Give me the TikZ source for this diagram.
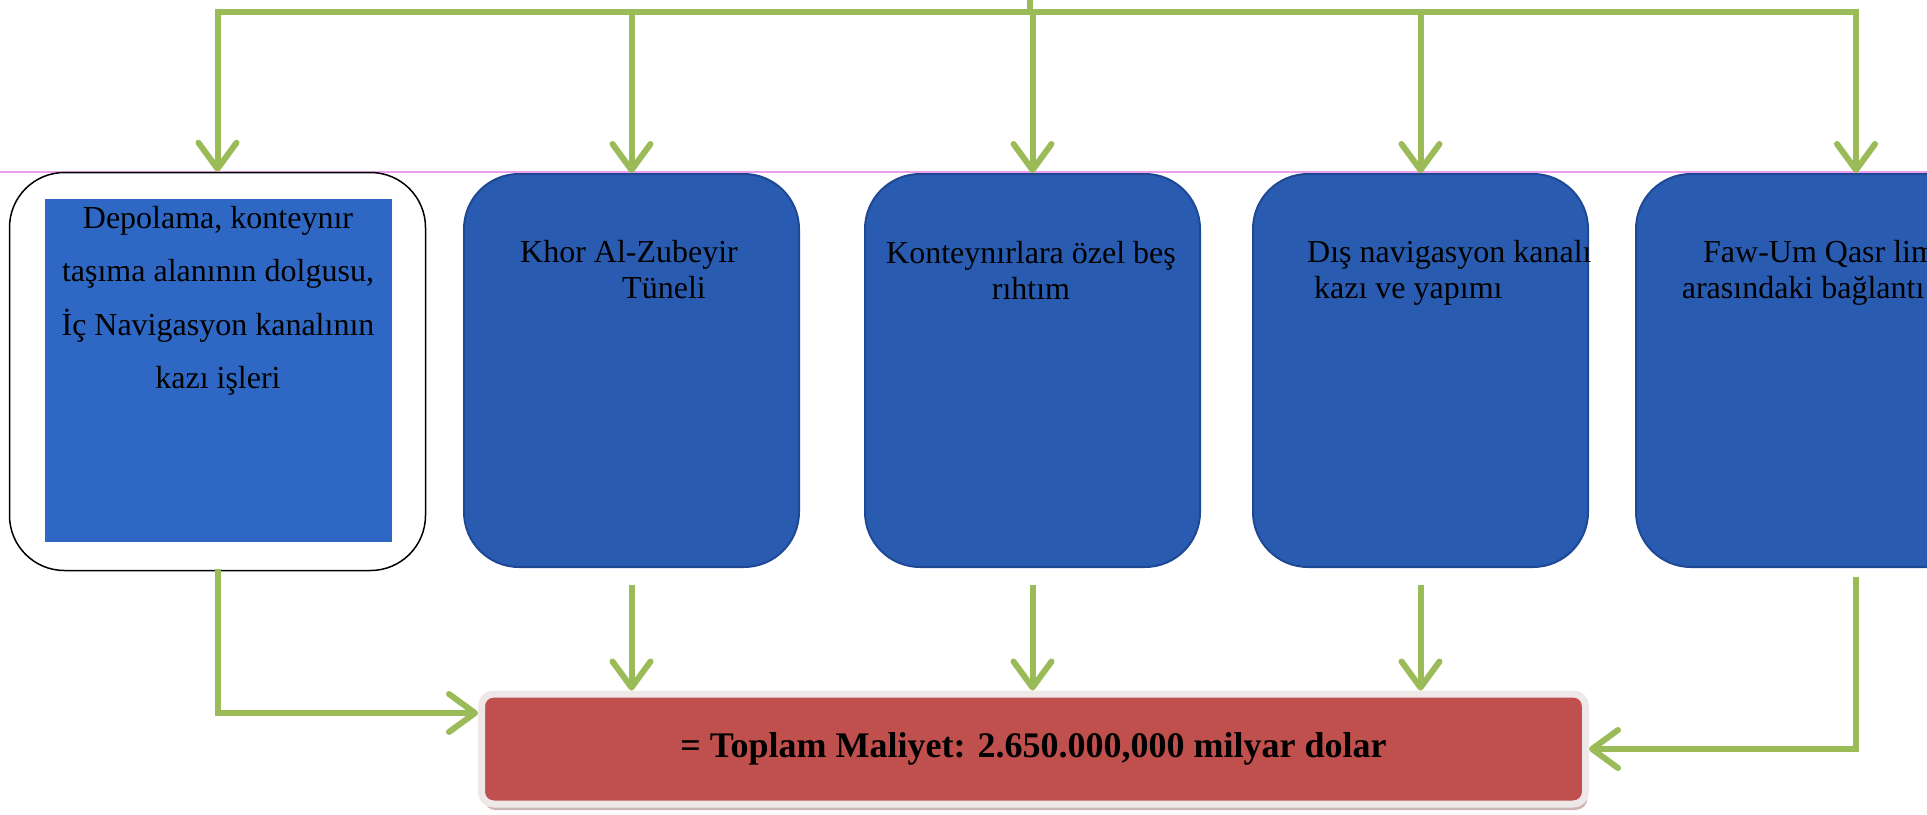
\documentclass[tikz,border=0pt]{standalone}
\usepackage{fontspec}
\setmainfont{Liberation Serif}
\usetikzlibrary{arrows.meta,shadows}
\definecolor{boxblue}{RGB}{41,92,176}
\definecolor{boxrim}{RGB}{30,72,148}
\definecolor{rectblue}{RGB}{46,104,196}
\definecolor{linkgreen}{RGB}{155,187,89}
\definecolor{totalred}{RGB}{192,80,77}
\definecolor{totalrim}{RGB}{238,232,232}
\definecolor{guide}{RGB}{236,160,236}
\begin{document}
\begin{tikzpicture}[x=1pt,y=-1pt,
        link/.style={draw=linkgreen, line width=6pt, line cap=rect},
        arr/.style={link, -{Straight Barb[length=26pt,width=38pt,round]}},
        item/.style={rounded corners=55pt, fill=boxblue, draw=boxrim, line width=2pt,
            minimum width=335pt, minimum height=393pt, inner sep=0pt},
        boxtext/.style={inner sep=0pt, anchor=north, align=center,
            font=\fontsize{32}{36}\selectfont}]
        \useasboundingbox (0,0) rectangle (1927,814);
        \clip (0,0) rectangle (1927,814);
        \draw[guide, line width=1.5pt] (0,172) -- (1927,172);

        \node[draw=black, line width=1.5pt, rounded corners=55pt, fill=white,
            minimum width=416pt, minimum height=398pt] (depo) at (217.5,371.5) {};
        \fill[rectblue] (45,199) rectangle (392,542);
        \node[item] (khor) at (631.5,370.5) {};
        \node[item] (rihtim) at (1032.5,370.5) {};
        \node[item] (dis) at (1420.5,370.5) {};
        \node[item, minimum width=440pt] (faw) at (1856,370.5) {};

        \node[boxtext, font=\fontsize{32}{53.5}\selectfont] (depotext) at (218,190.5)
            {\strut Depolama, konteynır\\taşıma alanının dolgusu,\\İç Navigasyon kanalının\\kazı işleri};
        \node[boxtext] (khortext) at (629,237) {\strut Khor Al-Zubeyir\\\hspace*{70pt}Tüneli};
        \node[boxtext] (rihtimtext) at (1031,238) {\strut Konteynırlara özel beş\\rıhtım};
        \node[boxtext, anchor=north west, align=left] (distext) at (1307,237)
            {\strut Dış navigasyon kanalı\\\hspace*{7pt}kazı ve yapımı};
        \node[boxtext] (fawtext) at (1856,237) {\strut Faw-Um Qasr limanları\\arasındaki bağlantı otoyolu};

        \node[fill=totalred, draw=totalrim, line width=7pt, rounded corners=12pt,
            minimum width=1104pt, minimum height=110pt,
            drop shadow={shadow xshift=2pt, shadow yshift=-6pt, fill=totalred!45!gray, opacity=0.5},
            font=\bfseries\fontsize{36}{40}\selectfont] (total) at (1033.5,749)
            {= Toplam Maliyet: 2.650.000,000 milyar dolar};

        \coordinate (feed) at (1030,0);
        \coordinate (bus) at (0,12);
        \draw[link] (feed) -- (feed |- bus);
        \draw[link] (depo.north |- bus) -- (faw.north |- bus);
        \foreach \b in {depo,khor,rihtim,dis,faw}
            \draw[arr] (\b.north |- bus) -- (\b.north);

        \foreach \b in {khor,rihtim,dis}
            \draw[arr] ([yshift=-20pt]\b.south) -- (\b.south |- total.north);
        \draw[arr] ([yshift=-1pt]depo.south) |- ([yshift=36pt]total.west);
        \draw[arr] ([yshift=-12pt]faw.south) |- (total.east);
    \end{tikzpicture}
\end{document}
